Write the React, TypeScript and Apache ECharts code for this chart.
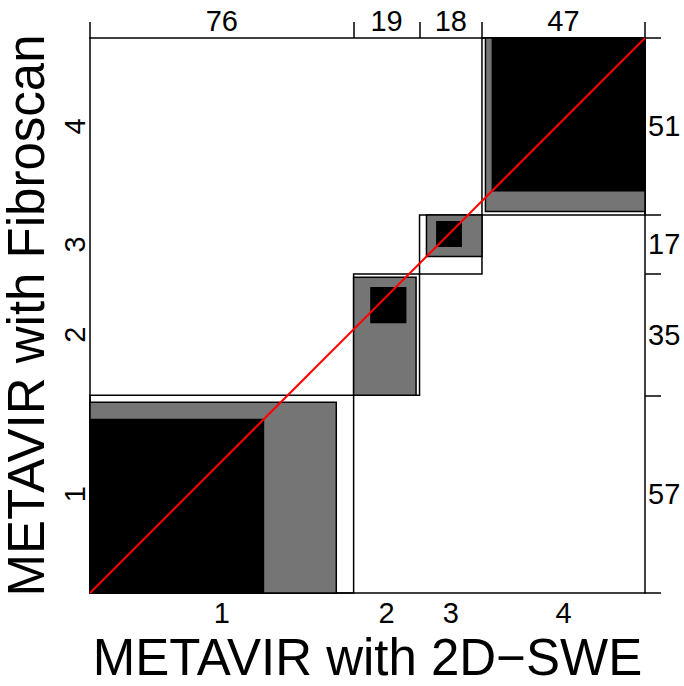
import React, { useEffect, useRef } from "react";
import * as echarts from "echarts";

// Categories (METAVIR stage)
const categories = ["1", "2", "3", "4"];
// Contingency table: rows = METAVIR with Fibroscan (y), columns = METAVIR with 2D-SWE (x)
const rowF1 = [50, 5, 2, 0];
const rowF2 = [21, 10, 3, 1];
const rowF3 = [5, 3, 7, 2];
const rowF4 = [0, 1, 6, 44];
const table = [rowF1, rowF2, rowF3, rowF4];
const xTitle = "METAVIR with 2D\u2212SWE";
const yTitle = "METAVIR with Fibroscan";

const FONT = "'Liberation Sans', Arial, Helvetica, sans-serif";

export default function App() {
  const ref = useRef<HTMLDivElement>(null);

  useEffect(() => {
    if (!ref.current) return;
    const chart = echarts.init(ref.current, null, { renderer: "svg" });
    const k = categories.length;
    const colTotals = categories.map((_, j) => table.reduce((s, r) => s + r[j], 0));
    const rowTotals = table.map((r) => r.reduce((s, v) => s + v, 0));
    const n = colTotals.reduce((s, v) => s + v, 0);
    const xc = [0];
    colTotals.forEach((v) => xc.push(xc[xc.length - 1] + v));
    const yc = [0];
    rowTotals.forEach((v) => yc.push(yc[yc.length - 1] + v));
    const midX = colTotals.map((_, i) => (xc[i] + xc[i + 1]) / 2);
    const midY = rowTotals.map((_, i) => (yc[i] + yc[i + 1]) / 2);

    // rects: [x0, y0, x1, y1, kind] kind 0 outer, 1 partial (gray), 2 exact (black)
    const rects: number[][] = [];
    for (let i = 0; i < k; i++) {
      rects.push([xc[i], yc[i], xc[i + 1], yc[i + 1], 0]);
      for (const d of [1, 0]) {
        const lb = Math.max(0, i - d);
        const ub = Math.min(k - 1, i + d);
        let xoff = 0, yoff = 0, w = 0, h = 0;
        for (let m = 0; m < lb; m++) {
          xoff += table[m][i];
          yoff += table[i][m];
        }
        for (let m = lb; m <= ub; m++) {
          w += table[m][i];
          h += table[i][m];
        }
        const x0 = xc[i] + xoff;
        const y0 = yc[i] + yoff;
        rects.push([x0, y0, x0 + w, y0 + h, d === 1 ? 1 : 2]);
      }
    }

    const nearest = (arr: number[], v: number) => {
      let best = 0;
      arr.forEach((a, i) => {
        if (Math.abs(a - v) < Math.abs(arr[best] - v)) best = i;
      });
      return best;
    };

    const lineStyle = { color: "#000", width: 1.5 };
    const labelStyle = { color: "#000", fontSize: 29, fontFamily: FONT };
    const titleStyle = { color: "#000", fontSize: 51, fontFamily: FONT };

    chart.setOption({
      animation: false,
      backgroundColor: "#fff",
      grid: { left: 90, right: 39, top: 38, bottom: 93, containLabel: false, outerBoundsMode: "none" },
      xAxis: [
        {
          type: "value",
          position: "bottom",
          min: 0,
          max: n,
          splitLine: { show: false },
          axisLine: { show: true, onZero: false, lineStyle },
          axisTick: { show: false },
          axisLabel: {
            ...labelStyle,
            customValues: midX,
            margin: 5,
            formatter: (v: number) => categories[nearest(midX, v)],
          },
          name: xTitle,
          nameLocation: "middle",
          nameGap: 37,
          nameTextStyle: { ...titleStyle, verticalAlign: "top", lineHeight: 52 },
        },
        {
          type: "value",
          position: "top",
          min: 0,
          max: n,
          splitLine: { show: false },
          axisLine: { show: true, onZero: false, lineStyle },
          axisTick: { show: true, customValues: xc, length: 16, lineStyle },
          axisLabel: {
            ...labelStyle,
            customValues: midX,
            margin: 3,
            formatter: (v: number) => String(colTotals[nearest(midX, v)]),
          },
        },
      ],
      yAxis: [
        {
          type: "value",
          position: "left",
          min: 0,
          max: n,
          splitLine: { show: false },
          axisLine: { show: true, onZero: false, lineStyle },
          axisTick: { show: false },
          axisLabel: {
            ...labelStyle,
            customValues: midY,
            rotate: 90,
            margin: 1,
            formatter: (v: number) => categories[nearest(midY, v)],
          },
          name: yTitle,
          nameLocation: "middle",
          nameGap: 38,
          nameRotate: 90,
          nameTextStyle: { ...titleStyle, verticalAlign: "bottom", lineHeight: 40 },
        },
        {
          type: "value",
          position: "right",
          min: 0,
          max: n,
          splitLine: { show: false },
          axisLine: { show: true, onZero: false, lineStyle },
          axisTick: { show: true, customValues: yc, length: 16, lineStyle },
          axisLabel: {
            ...labelStyle,
            customValues: midY,
            margin: 3,
            formatter: (v: number) => String(rowTotals[nearest(midY, v)]),
          },
        },
      ],
      series: [
        {
          type: "custom",
          xAxisIndex: 0,
          yAxisIndex: 0,
          clip: false,
          data: rects,
          encode: { x: [0, 2], y: [1, 3] },
          renderItem: (_params: any, api: any) => {
            const p0 = api.coord([api.value(0), api.value(1)]);
            const p1 = api.coord([api.value(2), api.value(3)]);
            const kind = api.value(4);
            const fill = kind === 0 ? "none" : kind === 1 ? "#757575" : "#000000";
            return {
              type: "rect",
              shape: {
                x: p0[0],
                y: p1[1],
                width: p1[0] - p0[0],
                height: p0[1] - p1[1],
              },
              style: { fill, stroke: "#000", lineWidth: 1.5 },
            };
          },
          z: 2,
        },
        {
          type: "line",
          xAxisIndex: 0,
          yAxisIndex: 0,
          data: [
            [0, 0],
            [n, n],
          ],
          symbol: "none",
          lineStyle: { color: "#ff0000", width: 2 },
          z: 5,
        },
      ],
    });
    return () => chart.dispose();
  }, []);

  return (
    <div
      ref={ref}
      style={{ position: "fixed", left: 0, top: 0, width: 684, height: 686, background: "#fff" }}
    />
  );
}
